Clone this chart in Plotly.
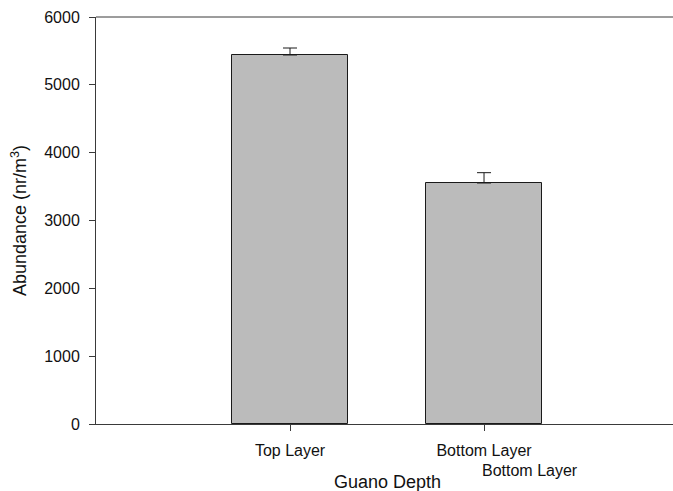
import plotly.graph_objects as go

# Data
categories = ["Top Layer", "Bottom Layer"]
abundance = [5440, 3553]
error_up = [103, 152]
y_ticks = [0, 1000, 2000, 3000, 4000, 5000, 6000]

W, H = 673, 491
ml, mr, mt, mb = 96, 0, 17, 67
plot_w = W - ml - mr
plot_h = H - mt - mb

font_family = "Liberation Sans, Arial, sans-serif"
axis_color = "#3a3a3a"

fig = go.Figure()
fig.add_trace(go.Bar(
    x=categories,
    y=abundance,
    width=0.6,
    marker=dict(color="#bbbbbb", line=dict(color="#1a1a1a", width=1)),
    error_y=dict(type="data", array=error_up, arrayminus=[0, 0], symmetric=False,
                 color="#1a1a1a", thickness=1, width=7),
    showlegend=False,
))

fig.update_layout(
    width=W, height=H,
    margin=dict(l=ml, r=mr, t=mt, b=mb, pad=0),
    paper_bgcolor="white", plot_bgcolor="white",
    font=dict(family=font_family, size=16, color="#111111"),
    bargap=0,
    xaxis=dict(
        type="category",
        range=[-1.0, 1.974],
        showline=True, linecolor=axis_color, linewidth=1,
        ticks="outside", ticklen=6, tickcolor=axis_color,
        showgrid=False, zeroline=False,
        tickfont=dict(size=16),
        ticklabelstandoff=6,
    ),
    yaxis=dict(
        range=[0, 6000],
        tickvals=y_ticks,
        showline=True, linecolor=axis_color, linewidth=1,
        ticks="outside", ticklen=6, tickcolor=axis_color,
        showgrid=False, zeroline=False,
        tickfont=dict(size=16),
        ticklabelstandoff=6,
        title=dict(text="Abundance (nr/m<sup>3</sup>)", font=dict(size=18), standoff=12),
    ),
    shapes=[dict(type="line", xref="paper", yref="paper", x0=0, x1=1, y0=1, y1=1,
                 line=dict(color=axis_color, width=1))],
    annotations=[
        dict(text="Guano Depth", xref="paper", yref="paper",
             x=(387 - ml) / plot_w, y=-(482 - (H - mb)) / plot_h,
             xanchor="center", yanchor="middle", showarrow=False,
             font=dict(size=18)),
        dict(text="Bottom Layer", xref="paper", yref="paper",
             x=(530 - ml) / plot_w, y=-(470 - (H - mb)) / plot_h,
             xanchor="center", yanchor="middle", showarrow=False,
             font=dict(size=16)),
    ],
)

fig.write_html("out.html")
